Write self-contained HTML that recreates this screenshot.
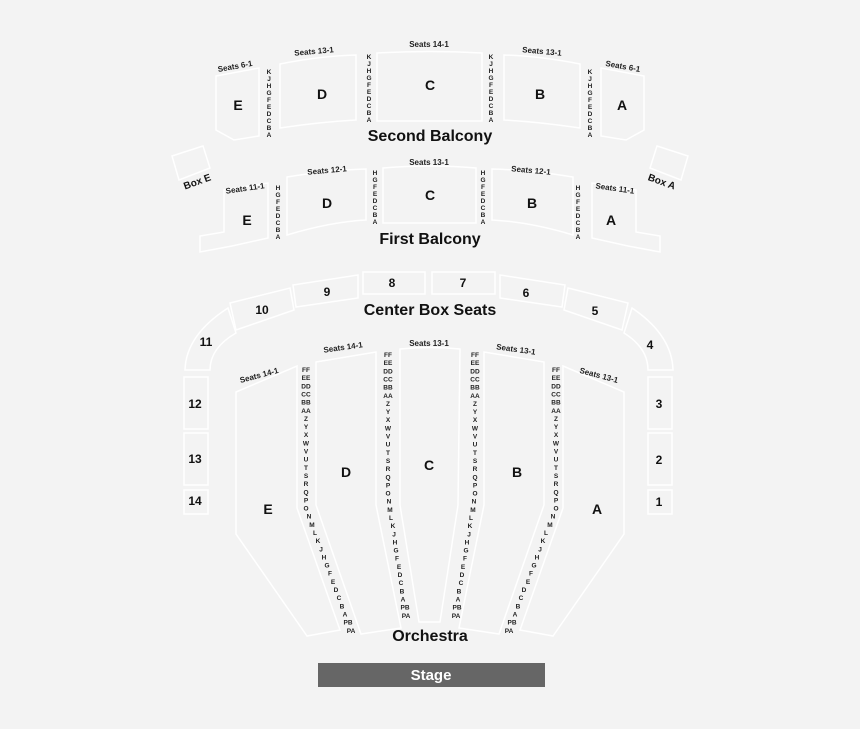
<!DOCTYPE html>
<html><head><meta charset="utf-8"><style>
html,body{margin:0;padding:0;background:#f3f3f3;}
svg{display:block;font-family:"Liberation Sans",Arial,sans-serif;font-weight:bold;}
.s{fill:none;stroke:#fff;stroke-width:1.5}
.r{font-size:6.5px;fill:#222;text-anchor:middle}
.st{font-size:8px;fill:#222;text-anchor:middle}
.sec{font-size:14px;fill:#111;text-anchor:middle}
.n{font-size:12px;fill:#111;text-anchor:middle}
.t{font-size:16px;fill:#111;text-anchor:middle}
</style></head><body>
<svg width="860" height="729" viewBox="0 0 860 729" xmlns="http://www.w3.org/2000/svg">
<rect width="860" height="729" fill="#f3f3f3"/>
<!-- Second balcony shapes -->
<path class="s" d="M216 76 L259 68 L259 136 L234 140 L216 130 Z"/>
<path class="s" d="M280 64 Q320 56 356 55 L356 120 Q320 122 280 128 Z"/>
<path class="s" d="M377 53 Q430 50 482 53 L482 121 L377 121 Z"/>
<path class="s" d="M504 55 Q540 56 580 64 L580 128 Q540 122 504 120 Z"/>
<path class="s" d="M601 68 L644 76 L644 130 L626 140 L601 136 Z"/>
<!-- First balcony shapes -->
<path class="s" d="M172 156 L203 146 L210 168 L179 180 Z"/>
<path class="s" d="M657 146 L688 156 L681 180 L650 168 Z"/>
<path class="s" d="M224 190 L268 183 L268 238 L232 246 L200 252 L200 236 L224 232 Z"/>
<path class="s" d="M287 177 Q330 170 366 169 L366 220 Q330 222 287 235 Z"/>
<path class="s" d="M383 168 Q430 164 476 168 L476 223 L383 223 Z"/>
<path class="s" d="M492 169 Q530 170 573 177 L573 235 Q530 222 492 220 Z"/>
<path class="s" d="M592 183 L636 190 L636 232 L660 236 L660 252 L628 246 L592 238 Z"/>
<!-- Center box seats -->
<path class="s" d="M363 272 L425 272 L425 294 L363 294 Z"/>
<path class="s" d="M432 272 L495 272 L495 294 L432 294 Z"/>
<path class="s" d="M293 285 L358 275 L358 298 L296 307 Z"/>
<path class="s" d="M500 275 L565 285 L562 307 L500 298 Z"/>
<path class="s" d="M230 303 L290 288 L294 310 L236 330 Z"/>
<path class="s" d="M568 288 L628 303 L622 330 L564 310 Z"/>
<path class="s" d="M185 370 Q186 335 228 308 L236 333 Q210 348 210 370 Z"/>
<path class="s" d="M632 308 Q672 335 673 370 L648 370 Q648 348 624 333 Z"/>
<rect class="s" x="184" y="377" width="24" height="52"/>
<rect class="s" x="184" y="433" width="24" height="52"/>
<rect class="s" x="184" y="490" width="24" height="24"/>
<rect class="s" x="648" y="377" width="24" height="52"/>
<rect class="s" x="648" y="433" width="24" height="52"/>
<rect class="s" x="648" y="490" width="24" height="24"/>
<!-- Orchestra shapes -->
<path class="s" d="M236 392 L297 366 L297 508 L340 630 L307 636 L236 534 Z"/>
<path class="s" d="M316 362 L376 352 L376 505 L401 628 L361 634 L316 505 Z"/>
<path class="s" d="M400 349 Q430 346 460 349 L458 505 L440 622 L419 622 L400 505 Z"/>
<path class="s" d="M484 352 L544 362 L544 505 L499 634 L459 628 L484 505 Z"/>
<path class="s" d="M563 366 L624 392 L624 534 L553 636 L520 630 L563 508 Z"/>
<!-- Stage -->
<rect x="318" y="663" width="227" height="24" fill="#666"/>
<text x="431" y="680" fill="#fff" style="font-size:15px" text-anchor="middle">Stage</text>
<!-- Titles -->
<text class="t" x="430" y="141">Second Balcony</text>
<text class="t" x="430" y="244">First Balcony</text>
<text class="t" x="430" y="315">Center Box Seats</text>
<text class="t" x="430" y="641">Orchestra</text>
<!-- Section letters -->
<text class="sec" x="238" y="110">E</text><text class="sec" x="322" y="99">D</text><text class="sec" x="430" y="90">C</text><text class="sec" x="540" y="99">B</text><text class="sec" x="622" y="110">A</text>
<text class="sec" x="247" y="225">E</text><text class="sec" x="327" y="208">D</text><text class="sec" x="430" y="200">C</text><text class="sec" x="532" y="208">B</text><text class="sec" x="611" y="225">A</text>
<text class="sec" x="346" y="477">D</text><text class="sec" x="429" y="470">C</text><text class="sec" x="517" y="477">B</text><text class="sec" x="268" y="514">E</text><text class="sec" x="597" y="514">A</text>
<!-- Box numbers -->
<text class="n" x="392" y="287">8</text><text class="n" x="463" y="287">7</text><text class="n" x="327" y="296">9</text><text class="n" x="526" y="297">6</text><text class="n" x="262" y="314">10</text><text class="n" x="595" y="315">5</text><text class="n" x="206" y="346">11</text><text class="n" x="650" y="349">4</text><text class="n" x="195" y="408">12</text><text class="n" x="659" y="408">3</text><text class="n" x="195" y="463">13</text><text class="n" x="659" y="464">2</text><text class="n" x="195" y="505">14</text><text class="n" x="659" y="506">1</text>
<text class="n" x="197" y="185" transform="rotate(-20 197 181)" style="font-size:10px">Box E</text>
<text class="n" x="662" y="185" transform="rotate(20 662 181)" style="font-size:10px">Box A</text>
<!-- Seats labels -->
<text class="st" x="235" y="69" transform="rotate(-10 235 66)">Seats 6-1</text>
<text class="st" x="314" y="54" transform="rotate(-5 314 51)">Seats 13-1</text>
<text class="st" x="429" y="47">Seats 14-1</text>
<text class="st" x="542" y="54" transform="rotate(5 542 51)">Seats 13-1</text>
<text class="st" x="623" y="69" transform="rotate(10 623 66)">Seats 6-1</text>
<text class="st" x="245" y="191" transform="rotate(-8 245 188)">Seats 11-1</text>
<text class="st" x="327" y="173" transform="rotate(-5 327 170)">Seats 12-1</text>
<text class="st" x="429" y="165">Seats 13-1</text>
<text class="st" x="531" y="173" transform="rotate(5 531 170)">Seats 12-1</text>
<text class="st" x="615" y="191" transform="rotate(8 615 188)">Seats 11-1</text>
<text class="st" x="259" y="378" transform="rotate(-15 259 375)">Seats 14-1</text>
<text class="st" x="343" y="350" transform="rotate(-8 343 347)">Seats 14-1</text>
<text class="st" x="429" y="346">Seats 13-1</text>
<text class="st" x="516" y="352" transform="rotate(8 516 349)">Seats 13-1</text>
<text class="st" x="599" y="378" transform="rotate(15 599 375)">Seats 13-1</text>
<!-- Second balcony rows -->
<text class="r" y="66"><tspan x="269" dy="8">K</tspan><tspan x="269" dy="7">J</tspan><tspan x="269" dy="7">H</tspan><tspan x="269" dy="7">G</tspan><tspan x="269" dy="7">F</tspan><tspan x="269" dy="7">E</tspan><tspan x="269" dy="7">D</tspan><tspan x="269" dy="7">C</tspan><tspan x="269" dy="7">B</tspan><tspan x="269" dy="7">A</tspan></text>
<text class="r" y="51"><tspan x="369" dy="8">K</tspan><tspan x="369" dy="7">J</tspan><tspan x="369" dy="7">H</tspan><tspan x="369" dy="7">G</tspan><tspan x="369" dy="7">F</tspan><tspan x="369" dy="7">E</tspan><tspan x="369" dy="7">D</tspan><tspan x="369" dy="7">C</tspan><tspan x="369" dy="7">B</tspan><tspan x="369" dy="7">A</tspan></text>
<text class="r" y="51"><tspan x="491" dy="8">K</tspan><tspan x="491" dy="7">J</tspan><tspan x="491" dy="7">H</tspan><tspan x="491" dy="7">G</tspan><tspan x="491" dy="7">F</tspan><tspan x="491" dy="7">E</tspan><tspan x="491" dy="7">D</tspan><tspan x="491" dy="7">C</tspan><tspan x="491" dy="7">B</tspan><tspan x="491" dy="7">A</tspan></text>
<text class="r" y="66"><tspan x="590" dy="8">K</tspan><tspan x="590" dy="7">J</tspan><tspan x="590" dy="7">H</tspan><tspan x="590" dy="7">G</tspan><tspan x="590" dy="7">F</tspan><tspan x="590" dy="7">E</tspan><tspan x="590" dy="7">D</tspan><tspan x="590" dy="7">C</tspan><tspan x="590" dy="7">B</tspan><tspan x="590" dy="7">A</tspan></text>
<!-- First balcony rows -->
<text class="r" y="182"><tspan x="278" dy="8">H</tspan><tspan x="278" dy="7">G</tspan><tspan x="278" dy="7">F</tspan><tspan x="278" dy="7">E</tspan><tspan x="278" dy="7">D</tspan><tspan x="278" dy="7">C</tspan><tspan x="278" dy="7">B</tspan><tspan x="278" dy="7">A</tspan></text>
<text class="r" y="167"><tspan x="375" dy="8">H</tspan><tspan x="375" dy="7">G</tspan><tspan x="375" dy="7">F</tspan><tspan x="375" dy="7">E</tspan><tspan x="375" dy="7">D</tspan><tspan x="375" dy="7">C</tspan><tspan x="375" dy="7">B</tspan><tspan x="375" dy="7">A</tspan></text>
<text class="r" y="167"><tspan x="483" dy="8">H</tspan><tspan x="483" dy="7">G</tspan><tspan x="483" dy="7">F</tspan><tspan x="483" dy="7">E</tspan><tspan x="483" dy="7">D</tspan><tspan x="483" dy="7">C</tspan><tspan x="483" dy="7">B</tspan><tspan x="483" dy="7">A</tspan></text>
<text class="r" y="182"><tspan x="578" dy="8">H</tspan><tspan x="578" dy="7">G</tspan><tspan x="578" dy="7">F</tspan><tspan x="578" dy="7">E</tspan><tspan x="578" dy="7">D</tspan><tspan x="578" dy="7">C</tspan><tspan x="578" dy="7">B</tspan><tspan x="578" dy="7">A</tspan></text>
<!-- Orchestra rows col1 -->
<text class="r" y="364"><tspan x="306" dy="8">FF</tspan><tspan x="306" dy="8.15">EE</tspan><tspan x="306" dy="8.15">DD</tspan><tspan x="306" dy="8.15">CC</tspan><tspan x="306" dy="8.15">BB</tspan><tspan x="306" dy="8.15">AA</tspan><tspan x="306" dy="8.15">Z</tspan><tspan x="306" dy="8.15">Y</tspan><tspan x="306" dy="8.15">X</tspan><tspan x="306" dy="8.15">W</tspan><tspan x="306" dy="8.15">V</tspan><tspan x="306" dy="8.15">U</tspan><tspan x="306" dy="8.15">T</tspan><tspan x="306" dy="8.15">S</tspan><tspan x="306" dy="8.15">R</tspan><tspan x="306" dy="8.15">Q</tspan><tspan x="306" dy="8.15">P</tspan><tspan x="306" dy="8.15">O</tspan><tspan x="309" dy="8.15">N</tspan><tspan x="312" dy="8.15">M</tspan><tspan x="315" dy="8.15">L</tspan><tspan x="318" dy="8.15">K</tspan><tspan x="321" dy="8.15">J</tspan><tspan x="324" dy="8.15">H</tspan><tspan x="327" dy="8.15">G</tspan><tspan x="330" dy="8.15">F</tspan><tspan x="333" dy="8.15">E</tspan><tspan x="336" dy="8.15">D</tspan><tspan x="339" dy="8.15">C</tspan><tspan x="342" dy="8.15">B</tspan><tspan x="345" dy="8.15">A</tspan><tspan x="348" dy="8.15">PB</tspan><tspan x="351" dy="8.15">PA</tspan></text>
<!-- col2 -->
<text class="r" y="349"><tspan x="388" dy="8">FF</tspan><tspan x="388" dy="8.15">EE</tspan><tspan x="388" dy="8.15">DD</tspan><tspan x="388" dy="8.15">CC</tspan><tspan x="388" dy="8.15">BB</tspan><tspan x="388" dy="8.15">AA</tspan><tspan x="388" dy="8.15">Z</tspan><tspan x="388" dy="8.15">Y</tspan><tspan x="388" dy="8.15">X</tspan><tspan x="388" dy="8.15">W</tspan><tspan x="388" dy="8.15">V</tspan><tspan x="388" dy="8.15">U</tspan><tspan x="388" dy="8.15">T</tspan><tspan x="388" dy="8.15">S</tspan><tspan x="388" dy="8.15">R</tspan><tspan x="388" dy="8.15">Q</tspan><tspan x="388" dy="8.15">P</tspan><tspan x="388" dy="8.15">O</tspan><tspan x="389" dy="8.15">N</tspan><tspan x="390" dy="8.15">M</tspan><tspan x="391" dy="8.15">L</tspan><tspan x="393" dy="8.15">K</tspan><tspan x="394" dy="8.15">J</tspan><tspan x="395" dy="8.15">H</tspan><tspan x="396" dy="8.15">G</tspan><tspan x="397" dy="8.15">F</tspan><tspan x="399" dy="8.15">E</tspan><tspan x="400" dy="8.15">D</tspan><tspan x="401" dy="8.15">C</tspan><tspan x="402" dy="8.15">B</tspan><tspan x="403" dy="8.15">A</tspan><tspan x="405" dy="8.15">PB</tspan><tspan x="406" dy="8.15">PA</tspan></text>
<!-- col3 -->
<text class="r" y="349"><tspan x="475" dy="8">FF</tspan><tspan x="475" dy="8.15">EE</tspan><tspan x="475" dy="8.15">DD</tspan><tspan x="475" dy="8.15">CC</tspan><tspan x="475" dy="8.15">BB</tspan><tspan x="475" dy="8.15">AA</tspan><tspan x="475" dy="8.15">Z</tspan><tspan x="475" dy="8.15">Y</tspan><tspan x="475" dy="8.15">X</tspan><tspan x="475" dy="8.15">W</tspan><tspan x="475" dy="8.15">V</tspan><tspan x="475" dy="8.15">U</tspan><tspan x="475" dy="8.15">T</tspan><tspan x="475" dy="8.15">S</tspan><tspan x="475" dy="8.15">R</tspan><tspan x="475" dy="8.15">Q</tspan><tspan x="475" dy="8.15">P</tspan><tspan x="475" dy="8.15">O</tspan><tspan x="474" dy="8.15">N</tspan><tspan x="473" dy="8.15">M</tspan><tspan x="471" dy="8.15">L</tspan><tspan x="470" dy="8.15">K</tspan><tspan x="469" dy="8.15">J</tspan><tspan x="467" dy="8.15">H</tspan><tspan x="466" dy="8.15">G</tspan><tspan x="465" dy="8.15">F</tspan><tspan x="463" dy="8.15">E</tspan><tspan x="462" dy="8.15">D</tspan><tspan x="461" dy="8.15">C</tspan><tspan x="459" dy="8.15">B</tspan><tspan x="458" dy="8.15">A</tspan><tspan x="457" dy="8.15">PB</tspan><tspan x="456" dy="8.15">PA</tspan></text>
<!-- col4 -->
<text class="r" y="364"><tspan x="556" dy="8">FF</tspan><tspan x="556" dy="8.15">EE</tspan><tspan x="556" dy="8.15">DD</tspan><tspan x="556" dy="8.15">CC</tspan><tspan x="556" dy="8.15">BB</tspan><tspan x="556" dy="8.15">AA</tspan><tspan x="556" dy="8.15">Z</tspan><tspan x="556" dy="8.15">Y</tspan><tspan x="556" dy="8.15">X</tspan><tspan x="556" dy="8.15">W</tspan><tspan x="556" dy="8.15">V</tspan><tspan x="556" dy="8.15">U</tspan><tspan x="556" dy="8.15">T</tspan><tspan x="556" dy="8.15">S</tspan><tspan x="556" dy="8.15">R</tspan><tspan x="556" dy="8.15">Q</tspan><tspan x="556" dy="8.15">P</tspan><tspan x="556" dy="8.15">O</tspan><tspan x="553" dy="8.15">N</tspan><tspan x="550" dy="8.15">M</tspan><tspan x="546" dy="8.15">L</tspan><tspan x="543" dy="8.15">K</tspan><tspan x="540" dy="8.15">J</tspan><tspan x="537" dy="8.15">H</tspan><tspan x="534" dy="8.15">G</tspan><tspan x="531" dy="8.15">F</tspan><tspan x="528" dy="8.15">E</tspan><tspan x="524" dy="8.15">D</tspan><tspan x="521" dy="8.15">C</tspan><tspan x="518" dy="8.15">B</tspan><tspan x="515" dy="8.15">A</tspan><tspan x="512" dy="8.15">PB</tspan><tspan x="509" dy="8.15">PA</tspan></text>
</svg>
</body></html>
